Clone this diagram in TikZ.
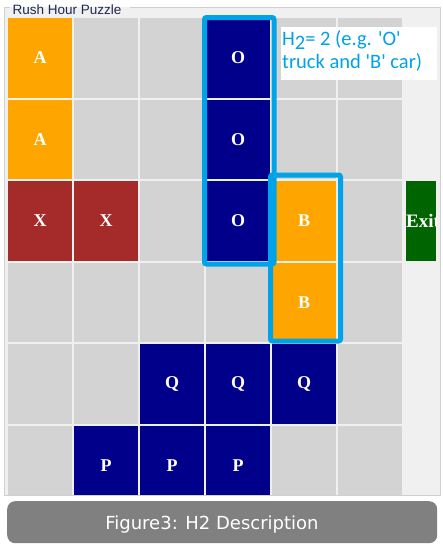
\documentclass[tikz,border=0pt]{standalone}
\usepackage{fontspec}
\setmainfont{Liberation Serif}
\newfontfamily\formfont{Liberation Sans}
\newfontfamily\notefont{Carlito}
\newfontfamily\capfont{DejaVu Sans}

\definecolor{panelgray}{HTML}{F0F0F0}
\definecolor{framegray}{HTML}{D0D0D0}
\definecolor{cellgray}{HTML}{D3D3D3}
\definecolor{carorange}{HTML}{FFA500}
\definecolor{trucknavy}{HTML}{00008B}
\definecolor{carred}{HTML}{A52A2A}
\definecolor{exitgreen}{HTML}{006400}
\definecolor{hiblue}{HTML}{00A2E8}
\definecolor{titleink}{HTML}{1E2850}
\definecolor{capgray}{HTML}{808080}

\begin{document}
\begin{tikzpicture}[x=1pt, y=-1pt,
    cell/.style={anchor=north west, minimum width=64pt, minimum height=79.5pt,
                 inner sep=0pt, fill=cellgray},
    piece/.style={cell, fill=#1, text=white,
                  font=\fontsize{18}{18}\selectfont\bfseries},
    hilite/.style={draw=hiblue, line width=5pt, rounded corners=2pt}]
    % ================= Parameters =================
    \def\gx{8}       % Left edge of the board
    \def\gy{18}      % Top edge of the board
    \def\dx{66}      % Column pitch
    \def\dy{81.5}    % Row pitch

    % Canvas (pixel units, y pointing down)
    \fill[white] (0,0) rectangle (443,550);
    \useasboundingbox (0,0) rectangle (443,550);

    % ================= Group box =================
    \fill[panelgray] (4,7) rectangle (440,495);

    \begin{scope}
        \clip (4,7) rectangle (440,494);
        % Empty board
        \foreach \c in {0,...,5}
            \foreach \r in {0,...,5}
                \node[cell] (g\c\r) at ({\gx+\c*\dx},{\gy+\r*\dy}) {};

        % ================= Vehicles =================
        % Car A (vertical)
        \node[piece=carorange] (A1) at ({\gx+0*\dx},{\gy+0*\dy}) {A};
        \node[piece=carorange] (A2) at ({\gx+0*\dx},{\gy+1*\dy}) {A};
        % Truck O (vertical)
        \node[piece=trucknavy] (O1) at ({\gx+3*\dx},{\gy+0*\dy}) {O};
        \node[piece=trucknavy] (O2) at ({\gx+3*\dx},{\gy+1*\dy}) {O};
        \node[piece=trucknavy] (O3) at ({\gx+3*\dx},{\gy+2*\dy}) {O};
        % Target car X
        \node[piece=carred] (X1) at ({\gx+0*\dx},{\gy+2*\dy}) {X};
        \node[piece=carred] (X2) at ({\gx+1*\dx},{\gy+2*\dy}) {X};
        % Car B (vertical)
        \node[piece=carorange] (B1) at ({\gx+4*\dx},{\gy+2*\dy}) {B};
        \node[piece=carorange] (B2) at ({\gx+4*\dx},{\gy+3*\dy}) {B};
        % Truck Q (horizontal)
        \node[piece=trucknavy] (Q1) at ({\gx+2*\dx},{\gy+4*\dy}) {Q};
        \node[piece=trucknavy] (Q2) at ({\gx+3*\dx},{\gy+4*\dy}) {Q};
        \node[piece=trucknavy] (Q3) at ({\gx+4*\dx},{\gy+4*\dy}) {Q};
        % Truck P (horizontal)
        \node[piece=trucknavy] (P1) at ({\gx+1*\dx},{\gy+5*\dy}) {P};
        \node[piece=trucknavy] (P2) at ({\gx+2*\dx},{\gy+5*\dy}) {P};
        \node[piece=trucknavy] (P3) at ({\gx+3*\dx},{\gy+5*\dy}) {P};
    \end{scope}

    % ================= Exit =================
    \node[cell, fill=exitgreen, minimum width=30pt] (exit) at (406,{\gy+2*\dy}) {};
    \begin{scope}
        \clip (exit.north west) rectangle (exit.south east);
        \node[anchor=west, inner sep=0pt, text=white,
              font=\fontsize{19}{19}\selectfont\bfseries] (exitlabel) at (exit.west) {Exit};
    \end{scope}

    % Frame with gap for the title
    \draw[framegray] (10,7) -- (4,7) -- (4,495) -- (440,495) -- (440,7) -- (130,7);
    \node[anchor=base west, inner sep=0pt, text=titleink,
          font=\formfont\fontsize{13.5}{13.5}\selectfont] (title) at (12.5,14.5) {Rush Hour Puzzle};

    % ================= Highlights =================
    \draw[hilite] (204.5,17.5) rectangle (274,264);
    \draw[hilite] (270.5,175) rectangle (340.5,341);

    % Annotation
    \node[cell, fill=white, minimum width=156pt, minimum height=53pt] (notebox) at (281,27) {};
    \node[anchor=north west, inner sep=0pt, align=left, text=hiblue,
          font=\notefont\fontsize{20.5}{23}\selectfont] (note) at (282,30)
          {H\raisebox{-4pt}{2}= 2 (e.g. \textquotesingle O\textquotesingle\\
           truck and \textquotesingle B\textquotesingle{} car)};

    % ================= Caption =================
    \node[cell, fill=capgray, rounded corners=8pt, minimum width=430pt,
          minimum height=42pt] (capbox) at (7,501) {};
    \node[anchor=base, inner sep=0pt, text=white,
          font=\capfont\fontsize{18}{18}\selectfont] (caption)
          at (212,529) {Figure3: H2 Description};
\end{tikzpicture}
\end{document}
